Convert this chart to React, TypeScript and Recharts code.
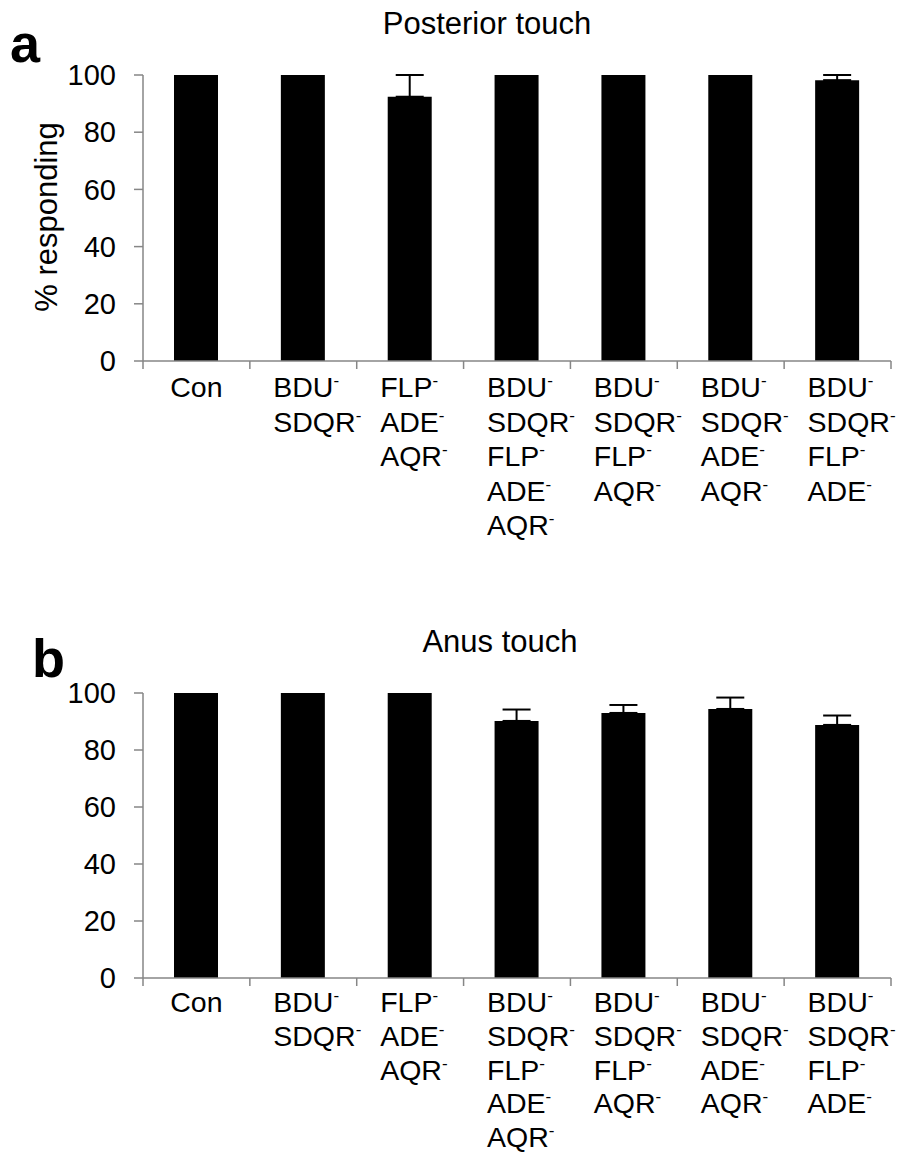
import React from 'react';
import { BarChart, Bar, XAxis, YAxis, ErrorBar } from 'recharts';

// x-axis labels, one entry per line (every gene name gets a superscript minus)
const categoryLines = [
  ['Con'],
  ['BDU', 'SDQR'],
  ['FLP', 'ADE', 'AQR'],
  ['BDU', 'SDQR', 'FLP', 'ADE', 'AQR'],
  ['BDU', 'SDQR', 'FLP', 'AQR'],
  ['BDU', 'SDQR', 'ADE', 'AQR'],
  ['BDU', 'SDQR', 'FLP', 'ADE'],
];

const posteriorValues = [100, 100, 92.4, 100, 100, 100, 98.2];
const posteriorErrors = [0, 0, 7.6, 0, 0, 0, 1.8];

const anusValues = [100, 100, 100, 90.2, 93, 94.4, 88.8];
const anusErrors = [0, 0, 0, 4, 2.8, 4, 3.3];

const yTicks = [0, 20, 40, 60, 80, 100];

const FONT = '"Liberation Sans", Arial, sans-serif';
const AXIS_GREY = '#868686';

const CHART_W = 900;
const Y_AXIS_W = 143;
const MARGIN_RIGHT = 9;
const BAND = (CHART_W - Y_AXIS_W - MARGIN_RIGHT) / categoryLines.length;

function CategoryTick(props: any) {
  const { x, y, index, firstLine, lineGap } = props;
  const lines = categoryLines[index];
  const single = lines.length === 1;
  const last = index === categoryLines.length - 1;
  return (
    <g>
      <line x1={x - BAND / 2} y1={y} x2={x - BAND / 2} y2={y + 8} stroke={AXIS_GREY} strokeWidth={1.5} />
      {last && (
        <line x1={x + BAND / 2} y1={y} x2={x + BAND / 2} y2={y + 8} stroke={AXIS_GREY} strokeWidth={1.5} />
      )}
      {lines.map((name, i) => (
        <text
          key={i}
          x={single ? x : x - 30}
          y={y + firstLine + i * lineGap}
          textAnchor={single ? 'middle' : 'start'}
          fontSize={28.5}
          fontFamily={FONT}
          fill="#000"
        >
          {name}
          {!single && (
            <tspan dy={-11} fontSize={17}>
              -
            </tspan>
          )}
        </text>
      ))}
    </g>
  );
}

interface PanelProps {
  values: number[];
  errors: number[];
  top: number;
  height: number;
  marginTop: number;
  plotHeight: number;
  firstLine: number;
  lineGap: number;
}

function Panel({ values, errors, top, height, marginTop, plotHeight, firstLine, lineGap }: PanelProps) {
  const data = categoryLines.map((lines, i) => ({
    name: lines.join('-'),
    value: values[i],
    err: errors[i] > 0 ? [0, errors[i]] : null,
  }));

  return (
    <div style={{ position: 'absolute', left: 0, top, width: CHART_W, height }}>
      <BarChart
        width={CHART_W}
        height={height}
        data={data}
        margin={{ top: marginTop, right: MARGIN_RIGHT, left: 0, bottom: 0 }}
        barSize={44}
      >
        <XAxis
          dataKey="name"
          axisLine={{ stroke: AXIS_GREY, strokeWidth: 1.5 }}
          tickLine={false}
          tickSize={0}
          tickMargin={0}
          interval={0}
          tick={<CategoryTick firstLine={firstLine} lineGap={lineGap} />}
          height={height - marginTop - plotHeight}
        />
        <YAxis
          domain={[0, 100]}
          ticks={yTicks}
          width={Y_AXIS_W}
          axisLine={{ stroke: AXIS_GREY, strokeWidth: 1.5 }}
          tickLine={{ stroke: AXIS_GREY, strokeWidth: 1.5 }}
          tickSize={9}
          tickMargin={18}
          tick={{ fill: '#000', fontSize: 29, fontFamily: FONT }}
        />
        <Bar dataKey="value" fill="#000" isAnimationActive={false}>
          <ErrorBar dataKey="err" direction="y" width={14} stroke="#000" strokeWidth={2} isAnimationActive={false} />
        </Bar>
      </BarChart>
    </div>
  );
}

export default function App() {
  return (
    <div style={{ position: 'absolute', left: 0, top: 0, width: 900, height: 1155, background: '#fff' }}>
      <Panel
        values={posteriorValues}
        errors={posteriorErrors}
        top={0}
        height={560}
        marginTop={75}
        plotHeight={286}
        firstLine={36}
        lineGap={34.5}
      />
      <Panel
        values={anusValues}
        errors={anusErrors}
        top={600}
        height={555}
        marginTop={93}
        plotHeight={285}
        firstLine={34}
        lineGap={33.8}
      />
      <svg
        width={900}
        height={1155}
        style={{ position: 'absolute', left: 0, top: 0, pointerEvents: 'none' }}
        fontFamily={FONT}
      >
        <text x={10} y={62} fontSize={54} fontWeight="bold" fill="#000">a</text>
        <text x={32} y={677} fontSize={54} fontWeight="bold" fill="#000">b</text>
        <text x={487} y={34} fontSize={31} textAnchor="middle" fill="#000">Posterior touch</text>
        <text x={500} y={652} fontSize={31} textAnchor="middle" fill="#000">Anus touch</text>
        <text x={57} y={217} fontSize={31} textAnchor="middle" fill="#000" transform="rotate(-90 57 217)">
          % responding
        </text>
      </svg>
    </div>
  );
}
